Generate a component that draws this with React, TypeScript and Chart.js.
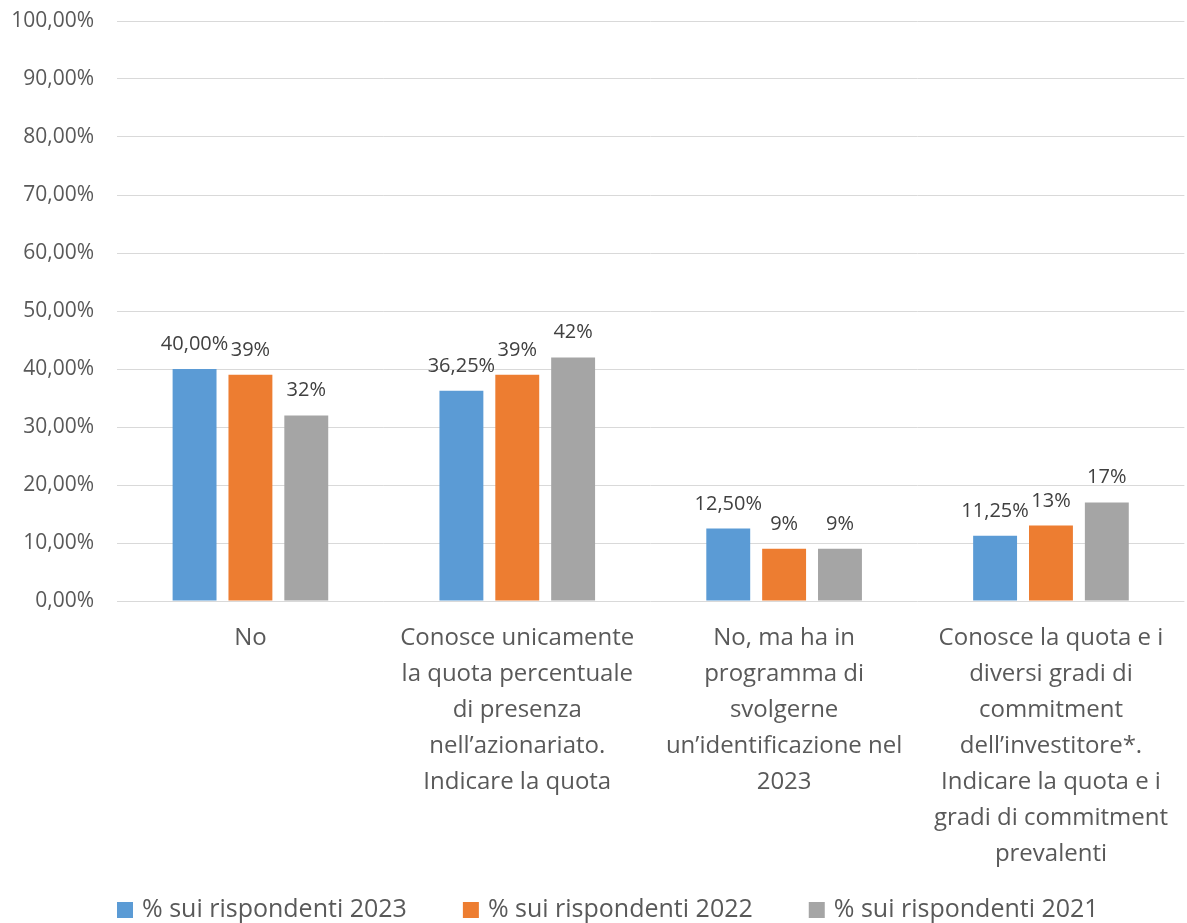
import React, { useEffect, useRef } from "react";
import { Chart, registerables } from "chart.js";

Chart.register(...registerables);

const categories: string[][] = [
  ["No"],
  ["Conosce unicamente", "la quota percentuale", "di presenza", "nell’azionariato.", "Indicare la quota"],
  ["No, ma ha in", "programma di", "svolgerne", "un’identificazione nel", "2023"],
  [
    "Conosce la quota e i",
    "diversi gradi di",
    "commitment",
    "dell’investitore*.",
    "Indicare la quota e i",
    "gradi di commitment",
    "prevalenti",
  ],
];

const seriesNames = ["% sui rispondenti 2023", "% sui rispondenti 2022", "% sui rispondenti 2021"];
const values2023 = [40.0, 36.25, 12.5, 11.25];
const values2022 = [39, 39, 9, 13];
const values2021 = [32, 42, 9, 17];
const labelDecimals = [2, 0, 0];
const seriesColors = ["#5B9BD5", "#ED7D31", "#A5A5A5"];

const yMin = 0;
const yMax = 100;
const yStep = 10;

const FONT = '"Open Sans", "DejaVu Sans", sans-serif';

function formatPct(v: number, decimals: number): string {
  return v.toFixed(decimals).replace(".", ",") + "%";
}

const valueLabelPlugin = {
  id: "valueLabels",
  afterDatasetsDraw(chart: any) {
    const ctx = chart.ctx;
    ctx.save();
    ctx.font = `20px ${FONT}`;
    ctx.fillStyle = "#404040";
    ctx.textAlign = "center";
    ctx.textBaseline = "alphabetic";
    chart.data.datasets.forEach((ds: any, i: number) => {
      const meta = chart.getDatasetMeta(i);
      meta.data.forEach((bar: any, j: number) => {
        const v = ds.data[j] as number;
        ctx.fillText(formatPct(v, labelDecimals[i]), bar.x, bar.y - 19);
      });
    });
    ctx.restore();
  },
};

// Legend drawn from the datasets (left aligned with the plot area)
const legendPlugin = {
  id: "bottomLegend",
  afterDraw(chart: any) {
    const ctx = chart.ctx;
    ctx.save();
    ctx.font = `25px ${FONT}`;
    ctx.textAlign = "left";
    ctx.textBaseline = "middle";
    const box = 16;
    const cy = chart.height - 13;
    let x = chart.chartArea.left;
    chart.data.datasets.forEach((ds: any) => {
      ctx.fillStyle = ds.backgroundColor;
      ctx.fillRect(x, cy - box / 2, box, box);
      ctx.fillStyle = "#595959";
      ctx.fillText(ds.label, x + 25, cy);
      x += 25 + ctx.measureText(ds.label).width + 56;
    });
    ctx.restore();
  },
};

export default function App() {
  const canvasRef = useRef<HTMLCanvasElement | null>(null);

  useEffect(() => {
    if (!canvasRef.current) return;
    const seriesValues = [values2023, values2022, values2021];
    const chart = new Chart(canvasRef.current, {
      type: "bar",
      data: {
        labels: categories,
        datasets: seriesNames.map((name, i) => ({
          label: name,
          data: seriesValues[i],
          backgroundColor: seriesColors[i],
          borderWidth: 0,
          categoryPercentage: 0.628,
          barPercentage: 0.786,
        })),
      },
      options: {
        responsive: false,
        animation: false,
        devicePixelRatio: 1,
        layout: {
          padding: { left: 0, top: 21, right: 0, bottom: 42 },
        },
        plugins: {
          tooltip: { enabled: false },
          legend: { display: false },
        },
        scales: {
          x: {
            grid: { display: false, drawTicks: false },
            border: { display: false },
            ticks: {
              autoSkip: false,
              maxRotation: 0,
              minRotation: 0,
              padding: 19,
              color: "#595959",
              font: { family: FONT, size: 24, lineHeight: 1.5 },
            },
            afterFit(scale: any) {
              scale.height = 280;
              scale.paddingTop = 0;
              scale.paddingBottom = 0;
            },
          },
          y: {
            min: yMin,
            max: yMax,
            border: { display: false },
            grid: { color: "#D9D9D9", lineWidth: 1, drawTicks: false },
            ticks: {
              stepSize: yStep,
              padding: 23,
              color: "#595959",
              font: { family: FONT, size: 21 },
              callback: (v: any) => formatPct(Number(v), 2),
            },
            afterFit(scale: any) {
              scale.width = 117;
              scale.paddingTop = 0;
              scale.paddingBottom = 0;
            },
          },
        },
      },
      plugins: [valueLabelPlugin, legendPlugin],
    });
    return () => chart.destroy();
  }, []);

  return (
    <div style={{ position: "fixed", left: 0, top: 0, width: 1187, height: 923, background: "#fff" }}>
      <canvas ref={canvasRef} width={1187} height={923} style={{ display: "block" }} />
    </div>
  );
}
